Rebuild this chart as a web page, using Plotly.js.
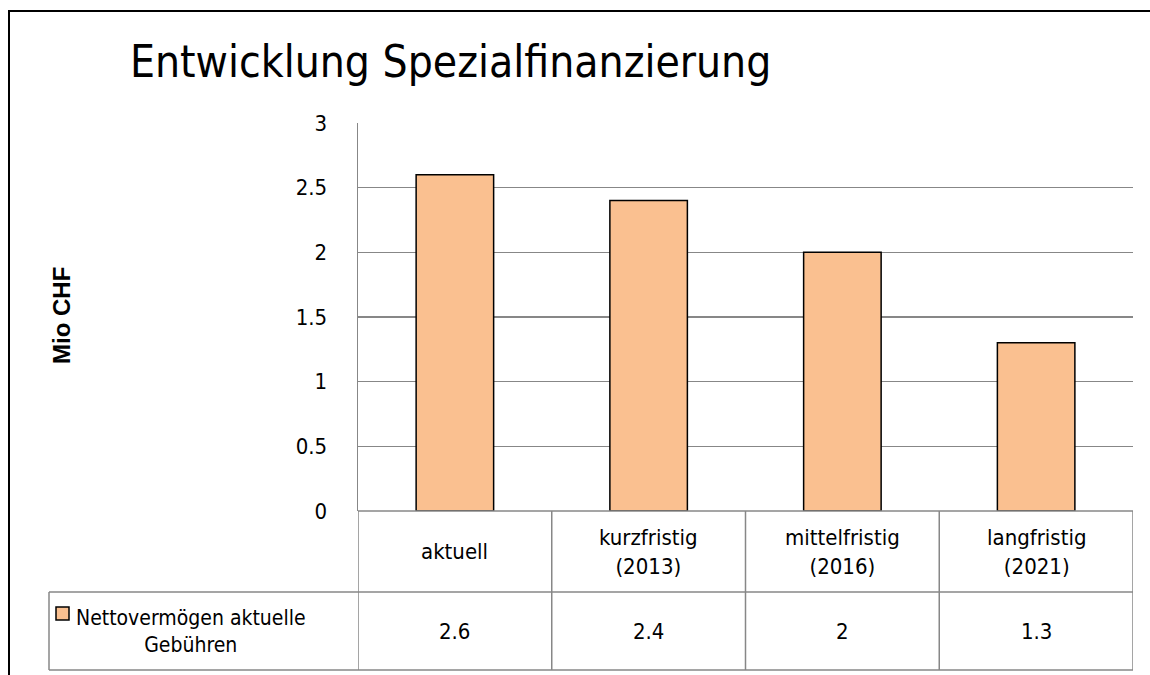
<!DOCTYPE html>
<html>
<head>
<meta charset="utf-8">
<script src="https://cdn.plot.ly/plotly-3.0.1.min.js"></script>
<style>
html,body{margin:0;padding:0;background:#fff;}
#chart{width:1150px;height:675px;}
</style>
</head>
<body>
<div id="chart"></div>
<script>
// ---- data ----
const categories = ["aktuell", "kurzfristig (2013)", "mittelfristig (2016)", "langfristig (2021)"];
const categoryLabels = ["aktuell", "kurzfristig<br>(2013)", "mittelfristig<br>(2016)", "langfristig<br>(2021)"];
const seriesName = "Nettovermögen aktuelle Gebühren";
const seriesLabel = "Nettovermögen aktuelle<br>Gebühren";
const values = [2.6, 2.4, 2, 1.3];
const valueLabels = ["2.6", "2.4", "2", "1.3"];
const yTicks = [0, 0.5, 1, 1.5, 2, 2.5, 3];
const yTickLabels = ["0", "0.5", "1", "1.5", "2", "2.5", "3"];

const FONT = "'DejaVu Sans Condensed', 'Liberation Sans Narrow', 'Liberation Sans', Arial, sans-serif";
const FONT2 = "'Liberation Sans', Arial, sans-serif";
const GRID = "#878787";
const BAR = "#FAC090";

// plot geometry helpers (paper coords)
const W = 1150, H = 675;
const L = 358, R = 1133, T = 123, B = 511;
const px2x = p => (p - L) / (R - L);
const px2y = p => (B - p) / (B - T);

const shapes = [];
const annotations = [];

// outer frame
shapes.push({type: "rect", xref: "paper", yref: "paper",
  x0: px2x(9), x1: px2x(1160), y0: px2y(690), y1: px2y(11),
  line: {color: "#000", width: 2}, layer: "below"});

// table lines
const yRow1 = px2y(592), yRow2 = px2y(670);
shapes.push({type: "line", xref: "paper", yref: "paper", x0: 0, x1: 1, y0: 0, y1: 0, line: {color: GRID, width: 1.5}});
shapes.push({type: "line", xref: "paper", yref: "paper", x0: px2x(49), x1: 1, y0: yRow1, y1: yRow1, line: {color: GRID, width: 1.5}});
shapes.push({type: "line", xref: "paper", yref: "paper", x0: px2x(49), x1: 1, y0: yRow2, y1: yRow2, line: {color: GRID, width: 1.5}});
shapes.push({type: "line", xref: "paper", yref: "paper", x0: px2x(49), x1: px2x(49), y0: yRow1, y1: yRow2, line: {color: GRID, width: 1.5}});
for (let i = 0; i <= categories.length; i++) {
  shapes.push({type: "line", xref: "x", yref: "paper", x0: i - 0.5, x1: i - 0.5, y0: 0, y1: yRow2, line: {color: GRID, width: 1.5}});
}

categories.forEach((c, i) => {
  annotations.push({xref: "x", yref: "paper", x: i, y: (0 + yRow1) / 2, text: categoryLabels[i],
    showarrow: false, xanchor: "center", yanchor: "middle", font: {family: FONT, size: 22, color: "#000"}});
  annotations.push({xref: "x", yref: "paper", x: i, y: (yRow1 + yRow2) / 2, text: valueLabels[i],
    showarrow: false, xanchor: "center", yanchor: "middle", font: {family: FONT, size: 22, color: "#000"}});
});

// legend key + series label
shapes.push({type: "rect", xref: "paper", yref: "paper", x0: px2x(56), x1: px2x(69), y0: px2y(620), y1: px2y(607),
  fillcolor: BAR, line: {color: "#000", width: 1.5}});
annotations.push({xref: "paper", yref: "paper", x: px2x(191), y: (yRow1 + yRow2) / 2, text: seriesLabel,
  showarrow: false, xanchor: "center", yanchor: "middle", font: {family: FONT, size: 21, color: "#000"}});

// y axis title
annotations.push({xref: "paper", yref: "paper", x: px2x(61), y: px2y(316), text: "<b>Mio CHF</b>", textangle: -90,
  showarrow: false, xanchor: "center", yanchor: "middle", font: {family: FONT2, size: 24, color: "#000"}});

const trace = {
  type: "bar", name: seriesName, x: categories, y: values,
  marker: {color: BAR, line: {color: "#000", width: 1.5}},
  width: 0.4, hoverinfo: "x+y"
};

const layout = {
  width: W, height: H,
  margin: {l: L, r: W - R, t: T, b: H - B, pad: 0},
  paper_bgcolor: "#fff", plot_bgcolor: "#fff",
  showlegend: false,
  title: {text: "Entwicklung Spezialfinanzierung", xref: "container", yref: "container",
    x: 130 / W, xanchor: "left", y: 1 - 62 / H, yanchor: "middle",
    font: {family: FONT, size: 44, color: "#000"}},
  xaxis: {type: "category", showticklabels: false, showgrid: false, zeroline: false,
    showline: false, ticks: "", range: [-0.5, 3.5], fixedrange: true},
  yaxis: {range: [0, 3], tickvals: yTicks, ticktext: yTickLabels, showgrid: true, gridcolor: GRID, gridwidth: 1.5,
    zeroline: false, showline: true, linecolor: GRID, linewidth: 1.5, ticks: "", ticklabelstandoff: 25,
    tickfont: {family: FONT, size: 22, color: "#000"}, fixedrange: true},
  shapes: shapes,
  annotations: annotations
};

Plotly.newPlot("chart", [trace], layout, {displayModeBar: false, staticPlot: true});
</script>
</body>
</html>
